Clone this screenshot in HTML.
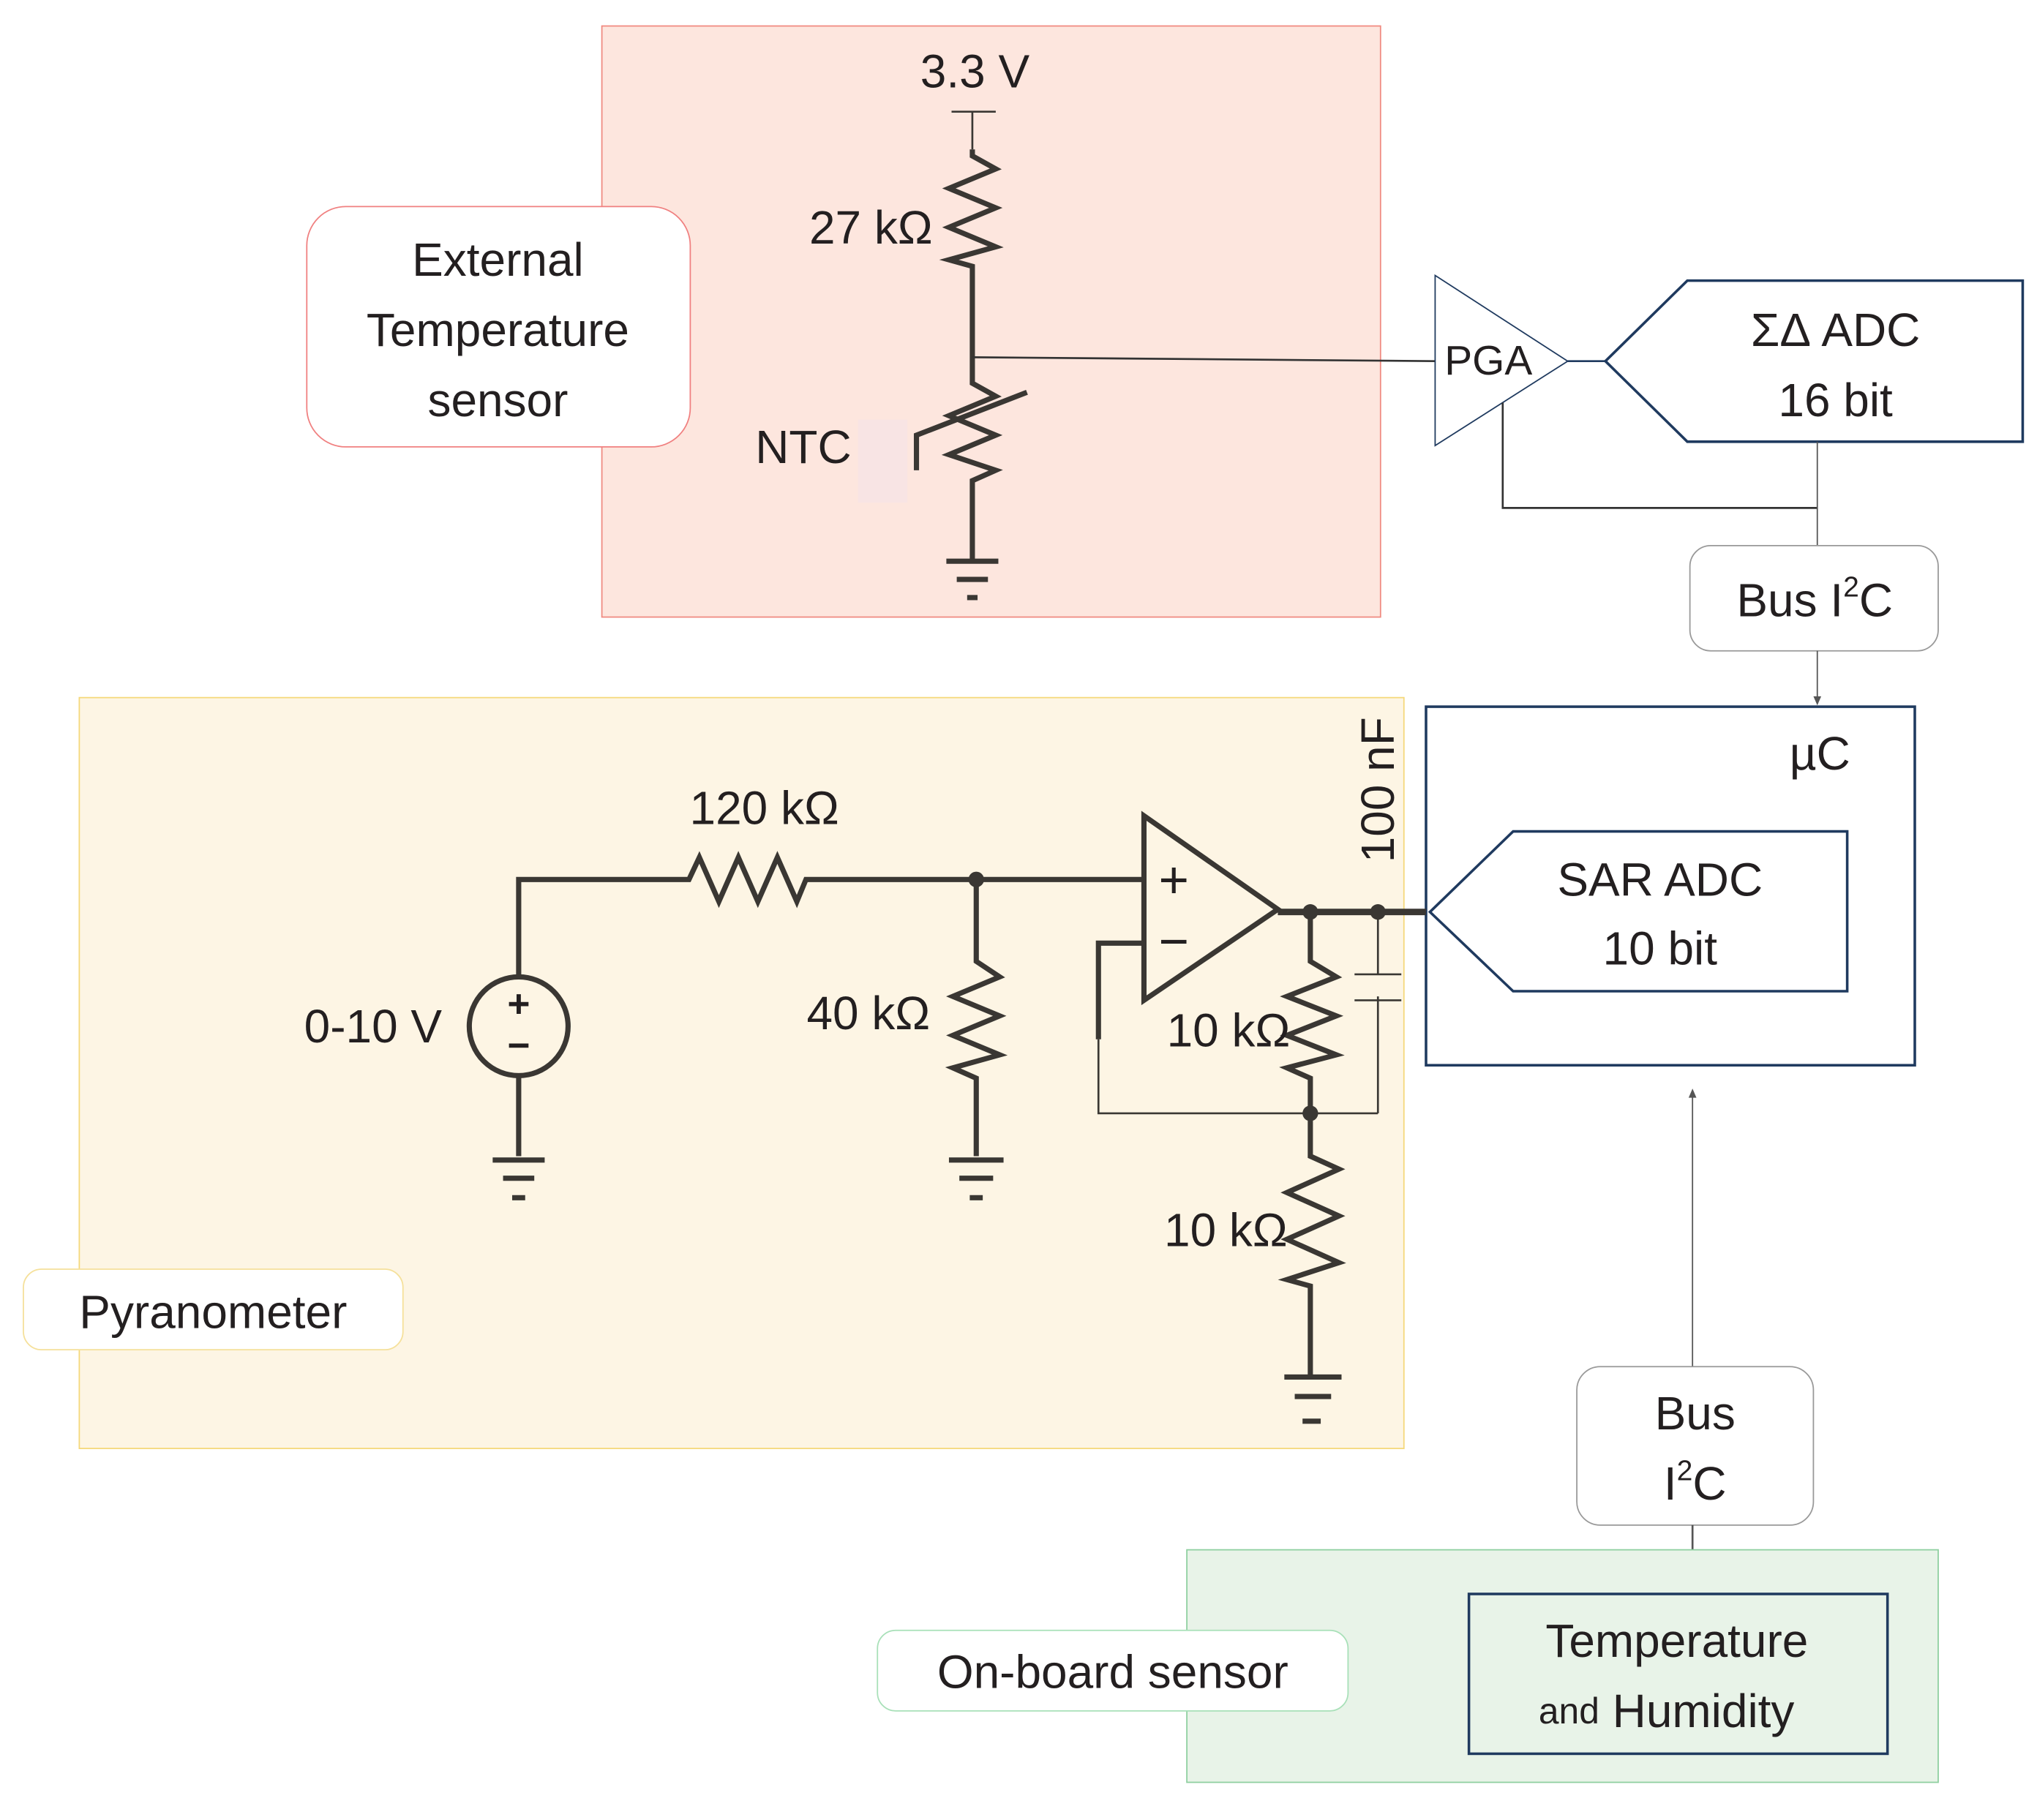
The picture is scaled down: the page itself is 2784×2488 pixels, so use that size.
<!DOCTYPE html>
<html><head><meta charset="utf-8"><style>
html,body{margin:0;padding:0;background:#fff}
svg{display:block}
text{font-family:"Liberation Sans",sans-serif;fill:#231f20;text-anchor:middle;dominant-baseline:central}
</style></head><body>
<svg width="2784" height="2488" viewBox="0 0 1567 1401" preserveAspectRatio="none" xmlns="http://www.w3.org/2000/svg">
<rect x="463" y="20" width="599" height="455" fill="#fde6de" stroke="#f08a80" stroke-width="1"/>
<rect x="236" y="159" width="295" height="185" rx="30" fill="#fff" stroke="#f08080" stroke-width="1"/>
<text x="383" y="200" font-size="36">External</text>
<text x="383" y="254" font-size="36">Temperature</text>
<text x="383" y="308" font-size="36">sensor</text>
<text x="750" y="55" font-size="36">3.3 V</text>
<g stroke="#3a3733" stroke-width="4" fill="none">
<line x1="732" y1="86" x2="766" y2="86" stroke-width="1.5"/>
<line x1="748" y1="86" x2="748" y2="115" stroke-width="1.5"/>
<polyline points="748,115 748,120 766,130 730,145 766,160 730,175 766,190 730,200 748,205 748,295 766,305 730,320 766,335 730,350 766,362 748,370 748,432"/>
<line x1="728" y1="432" x2="768" y2="432"/>
<line x1="736" y1="446" x2="760" y2="446"/>
<line x1="744" y1="460" x2="752" y2="460"/>
<polyline points="705,362 705,335 790,302"/>
</g>
<text x="670" y="175" font-size="36">27 kΩ</text>
<rect x="660" y="323" width="38" height="64" fill="#f8e4e4"/>
<text x="618" y="344" font-size="36">NTC</text>
<line x1="748" y1="275" x2="1104" y2="278" stroke="#333" stroke-width="1.5"/>
<polygon points="1104,212 1104,343 1206,278" fill="none" stroke="#1f3a5f" stroke-width="1"/>
<text x="1145" y="278" font-size="32">PGA</text>
<line x1="1206" y1="278" x2="1235" y2="278" stroke="#1f3a5f" stroke-width="1.5"/>
<polygon points="1235,278 1298,216 1556,216 1556,340 1298,340" fill="#fff" stroke="#1f3a5f" stroke-width="2"/>
<text x="1412" y="254" font-size="36">ΣΔ ADC</text>
<text x="1412" y="308" font-size="36">16 bit</text>
<polyline points="1156,310 1156,391 1398,391" fill="none" stroke="#333" stroke-width="1.5"/>
<line x1="1398" y1="340" x2="1398" y2="420" stroke="#555" stroke-width="1"/>
<rect x="1300" y="420" width="191" height="81" rx="16" fill="#fff" stroke="#999" stroke-width="1"/>
<text x="1396" y="462" font-size="36">Bus I<tspan font-size="22" dy="-10">2</tspan><tspan dy="10">C</tspan></text>
<line x1="1398" y1="501" x2="1398" y2="540" stroke="#555" stroke-width="1"/>
<polygon points="1395,536 1401,536 1398,543" fill="#555"/>
<rect x="1097" y="544" width="376" height="276" fill="#fff" stroke="#1f3a5f" stroke-width="2"/>
<text x="1400" y="580" font-size="36">µC</text>
<polygon points="1100,702 1164,640 1421,640 1421,763 1164,763" fill="#fff" stroke="#1f3a5f" stroke-width="2"/>
<text x="1277" y="677" font-size="36">SAR ADC</text>
<text x="1277" y="730" font-size="36">10 bit</text>
<rect x="61" y="537" width="1019" height="578" fill="#fdf5e4" stroke="#f5d87a" stroke-width="1"/>
<rect x="18" y="977" width="292" height="62" rx="14" fill="#fff" stroke="#f5e09a" stroke-width="1"/>
<text x="164" y="1010" font-size="36">Pyranometer</text>
<g stroke="#3a3733" stroke-width="4" fill="none">
<circle cx="399" cy="790" r="38"/>
<polyline points="399,752 399,677 530,677 538,660 553,694 568,660 583,694 598,660 613,694 620,677 880,677"/>
<polyline points="399,828 399,890"/>
<line x1="379" y1="893" x2="419" y2="893"/><line x1="387" y1="907" x2="411" y2="907"/><line x1="394" y1="922" x2="404" y2="922"/>
<polyline points="751,677 751,740 769,752 733,767 769,782 733,797 769,812 733,822 751,830 751,890"/>
<line x1="730" y1="893" x2="772" y2="893"/><line x1="738" y1="907" x2="764" y2="907"/><line x1="746" y1="922" x2="756" y2="922"/>
<polygon points="880,628 880,770 983,700"/>
<line x1="983" y1="702" x2="1097" y2="702" stroke-width="5"/>
<polyline points="880,726 845,726 845,800"/>
<polyline points="1008,702 1008,740 1028,752 990,767 1028,782 990,797 1028,812 990,822 1008,830 1008,890 1030,900 990,918 1030,936 990,954 1030,972 990,985 1008,990 1008,1060"/>
<line x1="988" y1="1060" x2="1032" y2="1060"/><line x1="996" y1="1075" x2="1024" y2="1075"/><line x1="1002" y1="1094" x2="1016" y2="1094"/>
</g>
<g stroke="#3a3733" stroke-width="1.5" fill="none">
<polyline points="845,800 845,857 1060,857"/>
<line x1="1060" y1="702" x2="1060" y2="750"/>
<line x1="1042" y1="750" x2="1078" y2="750"/>
<line x1="1042" y1="770" x2="1078" y2="770"/>
<line x1="1060" y1="767" x2="1060" y2="857"/>
</g>
<g fill="#3a3733">
<circle cx="751" cy="677" r="6"/><circle cx="1008" cy="702" r="6"/><circle cx="1060" cy="702" r="6"/><circle cx="1008" cy="857" r="6"/>
</g>
<text x="399" y="773" font-size="30" font-weight="bold">+</text>
<text x="399" y="805" font-size="30" font-weight="bold">−</text>
<text x="903" y="678" font-size="40">+</text>
<text x="903" y="725" font-size="40">−</text>
<text x="287" y="790" font-size="36">0-10 V</text>
<text x="588" y="622" font-size="36">120 kΩ</text>
<text x="668" y="780" font-size="36">40 kΩ</text>
<text x="945" y="793" font-size="36">10 kΩ</text>
<text x="943" y="947" font-size="36">10 kΩ</text>
<text x="1060" y="608" font-size="36" transform="rotate(-90 1060 608)">100 nF</text>
<line x1="1302" y1="842" x2="1302" y2="1052" stroke="#555" stroke-width="1"/>
<polygon points="1299,845 1305,845 1302,838" fill="#555"/>
<rect x="1213" y="1052" width="182" height="122" rx="18" fill="#fff" stroke="#999" stroke-width="1"/>
<text x="1304" y="1088" font-size="36">Bus</text>
<text x="1304" y="1142" font-size="36">I<tspan font-size="22" dy="-10">2</tspan><tspan dy="10">C</tspan></text>
<line x1="1302" y1="1174" x2="1302" y2="1218" stroke="#555" stroke-width="1.5"/>
<rect x="913" y="1193" width="578" height="179" fill="#e8f3e8" stroke="#8fd0a0" stroke-width="1"/>
<rect x="675" y="1255" width="362" height="62" rx="14" fill="#fff" stroke="#a8e0b8" stroke-width="1"/>
<text x="856" y="1287" font-size="36">On-board sensor</text>
<rect x="1130" y="1227" width="322" height="123" fill="#e8f3e8" stroke="#1f3a5f" stroke-width="2"/>
<text x="1290" y="1263" font-size="36">Temperature</text>
<text x="1282" y="1317" font-size="36"><tspan font-size="28">and</tspan> Humidity</text>
</svg>
</body></html>
